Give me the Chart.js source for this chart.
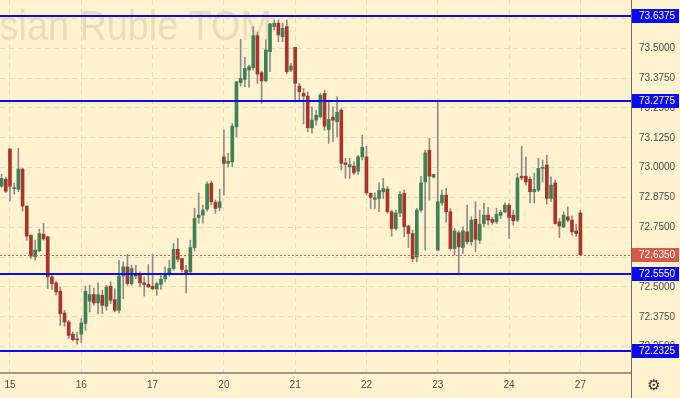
<!DOCTYPE html>
<html>
<head>
<meta charset="utf-8">
<script src="https://cdn.jsdelivr.net/npm/chart.js@4.4.0/dist/chart.umd.min.js"></script>
<style>
  html, body { margin: 0; padding: 0; background: #fff2cf; }
  canvas { display: block; }
</style>
</head>
<body>
<canvas id="mychart" width="680" height="398"></canvas>
<script>
// hourly bars, 17 per session; two bars shown before the 15th
var opens = [72.922, 72.951,
  73.078, 72.912, 72.909, 72.994, 72.839, 72.717, 72.626, 72.651, 72.721, 72.710, 72.542, 72.517, 72.482, 72.391, 72.353, 72.302, 72.281,
  72.302, 72.347, 72.440, 72.468, 72.433, 72.465, 72.419, 72.503, 72.447, 72.402, 72.546, 72.584, 72.514, 72.556, 72.556, 72.517, 72.511,
  72.503, 72.492, 72.511, 72.534, 72.553, 72.577, 72.658, 72.619, 72.570, 72.563, 72.665, 72.791, 72.801, 72.826, 72.935, 72.855, 72.833,
  73.045, 73.018, 73.024, 73.171, 73.356, 73.370, 73.409, 73.419, 73.553, 73.398, 73.364, 73.486, 73.591, 73.605, 73.549, 73.591, 73.409,
  73.504, 73.342, 73.311, 73.300, 73.167, 73.199, 73.213, 73.311, 73.160, 73.211, 73.192, 73.241, 73.020, 73.003, 73.006, 72.985, 73.045,
  73.045, 72.892, 72.867, 72.871, 72.899, 72.910, 72.815, 72.745, 72.810, 72.892, 72.755, 72.724, 72.626, 72.822, 72.940, 73.073, 72.961,
  72.654, 72.852, 72.885, 72.815, 72.661, 72.727, 72.665, 72.731, 72.689, 72.783, 72.696, 72.766, 72.801, 72.783, 72.773, 72.800, 72.815,
  72.843, 72.801, 72.780, 72.964, 72.964, 72.951, 72.899, 72.906, 72.997, 73.011, 72.871, 72.936, 72.773, 72.752, 72.794, 72.780, 72.735,
  72.810];
var highs = [72.972, 72.961,
  73.080, 72.935, 73.081, 72.998, 72.839, 72.717, 72.696, 72.742, 72.766, 72.713, 72.556, 72.525, 72.500, 72.402, 72.360, 72.311, 72.311,
  72.368, 72.503, 72.507, 72.495, 72.517, 72.486, 72.507, 72.521, 72.493, 72.612, 72.605, 72.636, 72.591, 72.591, 72.563, 72.542, 72.594,
  72.636, 72.521, 72.556, 72.584, 72.612, 72.682, 72.703, 72.620, 72.591, 72.696, 72.830, 72.893, 72.843, 72.940, 72.943, 72.864, 72.910,
  73.157, 73.060, 73.185, 73.360, 73.538, 73.462, 73.430, 73.591, 73.568, 73.405, 73.535, 73.605, 73.619, 73.619, 73.605, 73.619, 73.437,
  73.504, 73.353, 73.332, 73.318, 73.255, 73.241, 73.311, 73.325, 73.283, 73.255, 73.297, 73.248, 73.039, 73.039, 73.024, 73.052, 73.136,
  73.090, 72.894, 72.894, 72.936, 72.955, 72.920, 72.822, 72.822, 72.899, 72.906, 72.759, 72.738, 72.829, 72.964, 73.073, 73.123, 72.973,
  73.275, 72.906, 72.913, 72.829, 72.745, 72.735, 72.752, 72.843, 72.794, 72.857, 72.822, 72.850, 72.833, 72.791, 72.829, 72.822, 72.852,
  72.850, 72.822, 72.976, 73.090, 73.045, 72.961, 72.977, 73.039, 73.032, 73.052, 72.961, 72.948, 72.787, 72.815, 72.836, 72.797, 72.763,
  72.822];
var lows = [72.917, 72.896,
  72.861, 72.889, 72.899, 72.818, 72.696, 72.619, 72.612, 72.647, 72.696, 72.493, 72.489, 72.465, 72.339, 72.335, 72.284, 72.274, 72.260,
  72.267, 72.318, 72.395, 72.423, 72.388, 72.388, 72.402, 72.430, 72.395, 72.391, 72.451, 72.507, 72.507, 72.535, 72.500, 72.462, 72.498,
  72.489, 72.465, 72.490, 72.521, 72.545, 72.570, 72.605, 72.563, 72.475, 72.559, 72.650, 72.767, 72.767, 72.818, 72.843, 72.808, 72.819,
  72.885, 73.003, 73.003, 73.129, 73.342, 73.339, 73.336, 73.409, 73.353, 73.269, 73.359, 73.402, 73.577, 73.528, 73.528, 73.395, 73.402,
  73.283, 73.283, 73.183, 73.150, 73.144, 73.178, 73.208, 73.157, 73.102, 73.108, 73.129, 72.990, 72.955, 72.955, 72.972, 72.972, 73.032,
  72.885, 72.829, 72.829, 72.815, 72.871, 72.809, 72.713, 72.738, 72.794, 72.710, 72.665, 72.605, 72.605, 72.813, 72.654, 72.864, 72.956,
  72.654, 72.843, 72.773, 72.654, 72.633, 72.555, 72.640, 72.679, 72.675, 72.647, 72.682, 72.752, 72.759, 72.762, 72.766, 72.787, 72.810,
  72.703, 72.759, 72.773, 72.948, 72.927, 72.852, 72.852, 72.899, 72.940, 72.847, 72.857, 72.763, 72.707, 72.748, 72.773, 72.717, 72.713,
  72.633];
var closes = [72.955, 72.901,
  72.922, 72.914, 72.994, 72.839, 72.713, 72.629, 72.654, 72.724, 72.701, 72.542, 72.514, 72.479, 72.388, 72.353, 72.297, 72.279, 72.278,
  72.349, 72.482, 72.468, 72.433, 72.468, 72.423, 72.500, 72.444, 72.402, 72.545, 72.584, 72.514, 72.577, 72.546, 72.517, 72.510, 72.500,
  72.492, 72.514, 72.532, 72.556, 72.577, 72.658, 72.616, 72.573, 72.559, 72.665, 72.787, 72.801, 72.822, 72.931, 72.857, 72.829, 72.857,
  73.018, 73.027, 73.174, 73.360, 73.374, 73.416, 73.423, 73.553, 73.392, 73.364, 73.493, 73.602, 73.605, 73.556, 73.584, 73.402, 73.426,
  73.353, 73.318, 73.300, 73.167, 73.199, 73.220, 73.304, 73.174, 73.202, 73.199, 73.232, 73.018, 73.013, 73.013, 72.978, 73.045, 73.085,
  72.894, 72.875, 72.873, 72.904, 72.912, 72.815, 72.745, 72.810, 72.888, 72.752, 72.724, 72.619, 72.822, 72.936, 73.062, 72.964, 72.972,
  72.857, 72.885, 72.815, 72.661, 72.735, 72.668, 72.735, 72.689, 72.780, 72.700, 72.763, 72.801, 72.780, 72.771, 72.805, 72.812, 72.843,
  72.791, 72.777, 72.957, 72.957, 72.940, 72.899, 72.909, 72.997, 73.001, 72.871, 72.927, 72.766, 72.755, 72.801, 72.780, 72.731, 72.724,
  72.635];

var dayLabels = ['15', '16', '17', '20', '21', '22', '23', '24', '27'];
var barsPerDay = 17;
var barsBefore = 2;
var levels = [73.6375, 73.2775, 72.5550, 72.2325];
var lastPrice = 72.6350;

var bgColor = '#fff2cf';
var gridColor = '#e6dcc5';
var upColor = '#3d8157';
var downColor = '#a8352a';
var levelColor = '#0a0af5';

var bodyData = opens.map(function (o, k) {
  return { x: k - barsBefore, y: [Math.min(o, closes[k]), Math.max(o, closes[k])] };
});
var wickData = lows.map(function (l, k) {
  return { x: k - barsBefore, y: [l, highs[k]] };
});
var bodyColors = opens.map(function (o, k) { return closes[k] >= o ? upColor : downColor; });

var decor = {
  id: 'decor',
  beforeDraw: function (chart) {
    var c = chart.ctx;
    c.save();
    c.fillStyle = bgColor;
    c.fillRect(0, 0, chart.width, chart.height);
    // watermark, squeezed a little to fit the original lettering
    c.translate(272, 40);
    c.scale(0.9, 1);
    c.font = '42px "Liberation Sans", Arial, sans-serif';
    c.fillStyle = 'rgba(120,100,60,0.15)';
    c.textAlign = 'right';
    c.textBaseline = 'alphabetic';
    c.fillText('Russian Ruble TOM', 0, 0);
    c.restore();
  },
  afterDraw: function (chart) {
    var c = chart.ctx, ys = chart.scales.y, a = chart.chartArea;
    c.save();
    // last price
    var py = Math.round(ys.getPixelForValue(lastPrice)) + 0.5;
    c.strokeStyle = '#e8553f';
    c.lineWidth = 1;
    c.setLineDash([2, 2]);
    c.beginPath(); c.moveTo(a.left, py); c.lineTo(a.right, py); c.stroke();
    c.setLineDash([]);

    c.font = '10px "Liberation Sans", Arial, sans-serif';
    c.textAlign = 'left';
    c.textBaseline = 'middle';
    function box(v, color) {
      var y = ys.getPixelForValue(v);
      c.fillStyle = color;
      c.fillRect(a.right + 1, Math.round(y) - 7, 47, 14);
      c.fillStyle = '#ffffff';
      c.fillText(v.toFixed(4), a.right + 8, Math.round(y) + 0.5);
    }
    box(lastPrice, '#d85a48');

    levels.forEach(function (v) {
      var y = Math.round(ys.getPixelForValue(v));
      c.fillStyle = levelColor;
      c.fillRect(a.left, y - 1, a.right - a.left, 2);
      box(v, levelColor);
    });

    // axis line down through the time scale
    c.strokeStyle = '#6a6a6a';
    c.lineWidth = 1;
    c.beginPath(); c.moveTo(a.right + 0.5, a.bottom); c.lineTo(a.right + 0.5, chart.height); c.stroke();

    // settings gear
    c.fillStyle = '#333333';
    c.font = '15px "DejaVu Sans", sans-serif';
    c.textAlign = 'center';
    c.fillText('\u2699', 654, 386);
    c.restore();
  }
};

var ctx = document.getElementById('mychart');
var myChart = new Chart(ctx, {
  type: 'bar',
  data: {
    datasets: [{
      data: bodyData,
      backgroundColor: bodyColors,
      barThickness: 3,
      minBarLength: 1,
      grouped: false
    }, {
      data: wickData,
      backgroundColor: '#8c8c8c',
      barThickness: 1,
      grouped: false
    }]
  },
  options: {
    responsive: false,
    animation: false,
    devicePixelRatio: 1,
    layout: { padding: 0 },
    plugins: {
      legend: { display: false },
      tooltip: { enabled: false }
    },
    scales: {
      x: {
        type: 'linear',
        min: -2.38,
        max: 148.07,
        offset: false,
        afterBuildTicks: function (axis) {
          axis.ticks = dayLabels.map(function (d, n) { return { value: n * barsPerDay }; });
        },
        ticks: {
          callback: function (v, n) { return dayLabels[n]; },
          font: { size: 10, family: '"Liberation Sans", Arial, sans-serif' },
          color: '#4a4a4a',
          padding: 6,
          maxRotation: 0,
          autoSkip: false
        },
        grid: { color: gridColor, drawTicks: false, offset: false },
        border: { dash: [5, 4], color: '#9a958b', width: 2 },
        afterFit: function (s) { s.height = 25; s.paddingLeft = 0; s.paddingRight = 0; }
      },
      y: {
        position: 'right',
        min: 72.1393,
        max: 73.7026,
        ticks: {
          stepSize: 0.125,
          includeBounds: false,
          callback: function (v) { return v.toFixed(4); },
          font: { size: 10, family: '"Liberation Sans", Arial, sans-serif' },
          color: '#4a4a4a',
          padding: 8
        },
        grid: { color: gridColor, drawTicks: false },
        border: { dash: [5, 4], color: '#6a6a6a' },
        afterFit: function (s) { s.width = 49; s.paddingTop = 0; s.paddingBottom = 0; }
      }
    }
  },
  plugins: [decor]
});
</script>
</body>
</html>
